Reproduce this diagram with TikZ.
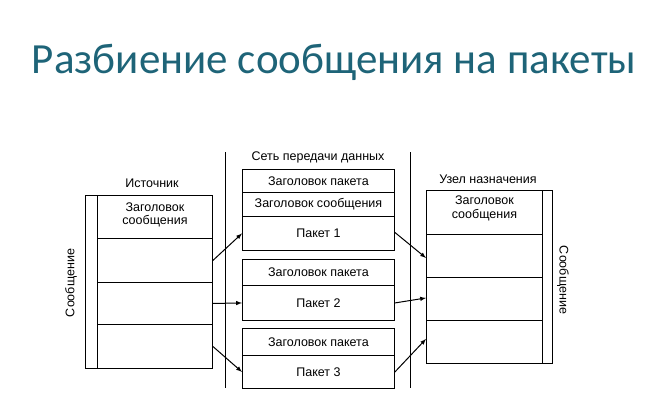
\documentclass[tikz,border=0pt]{standalone}
\usepackage{fontspec}
\setmainfont{Liberation Sans}
\newfontfamily\titlefont{Carlito}
\usetikzlibrary{arrows,positioning,calc}
\definecolor{titleteal}{RGB}{30,100,120}

\begin{document}
\begin{tikzpicture}[x=1pt, y=-1pt,
		every node/.style={align=center, font=\fontsize{12.5}{13.5}\selectfont},
		cell/.style={draw, line width=0.9pt, inner sep=0pt, anchor=north west},
		msgarrow/.style={line width=1pt, -latex}
	]
	\useasboundingbox (0,0) rectangle (668,401);

	% Title
	\node[font=\titlefont\fontsize{43}{48}\selectfont, text=titleteal] (title) at (334,62) {Разбиение сообщения на пакеты};

	% Source
	\node (srcLabel) at (152,183) {Источник};
	\node[cell, minimum width=127pt, minimum height=173pt] (src) at (85,195) {};
	\draw[line width=0.9pt] (97,195) -- (97,368);
	\node[cell, minimum width=115pt, minimum height=43pt] (S1) at (97,195) {};
	\node[cell, minimum width=115pt, minimum height=44pt] (S2) at (97,238) {};
	\node[cell, minimum width=115pt, minimum height=42pt] (S3) at (97,282) {};
	\node[cell, minimum width=115pt, minimum height=44pt] (S4) at (97,324) {};
	\node at ($(S1.center)+(0,-2)$) {Заголовок\\сообщения};
	\node[rotate=90] (srcMsg) at (71,283) {Сообщение};

	% Network
	\draw[line width=0.9pt] (225,152) -- (225,388);
	\draw[line width=0.9pt] (410,152) -- (410,388);
	\node (netLabel) at (318,157) {Сеть передачи данных};
	\node[cell, minimum width=152pt, minimum height=23pt] (P1a) at (242,169) {Заголовок пакета};
	\node[cell, minimum width=152pt, minimum height=24pt] (P1b) at (242,192) {Заголовок сообщения};
	\node[cell, minimum width=152pt, minimum height=34pt] (P1c) at (242,216) {Пакет 1};
	\node[cell, minimum width=152pt, minimum height=26pt] (P2a) at (242,259) {Заголовок пакета};
	\node[cell, minimum width=152pt, minimum height=35pt] (P2b) at (242,285) {Пакет 2};
	\node[cell, minimum width=152pt, minimum height=27pt] (P3a) at (242,328) {Заголовок пакета};
	\node[cell, minimum width=152pt, minimum height=33pt] (P3b) at (242,355) {Пакет 3};

	% Destination
	\node (dstLabel) at (488,179) {Узел назначения};
	\node[cell, minimum width=126pt, minimum height=173pt] (dst) at (426,190) {};
	\draw[line width=0.9pt] (542,190) -- (542,363);
	\node[cell, minimum width=116pt, minimum height=44pt] (D1) at (426,190) {};
	\node[cell, minimum width=116pt, minimum height=43pt] (D2) at (426,234) {};
	\node[cell, minimum width=116pt, minimum height=43pt] (D3) at (426,277) {};
	\node[cell, minimum width=116pt, minimum height=43pt] (D4) at (426,320) {};
	\node at ($(D1.center)+(0,-4)$) {Заголовок\\сообщения};
	\node[rotate=-90] (dstMsg) at (563,280) {Сообщение};

	% Arrows
	\draw[msgarrow] (S2.east) -- (P1c.west);
	\draw[msgarrow] (S3.east) -- (P2b.west);
	\draw[msgarrow] (S4.east) -- (P3b.west);
	\draw[msgarrow] ($(P1c.east)+(0,-1)$) -- ($(D2.west)+(0,2)$);
	\draw[msgarrow] (P2b.east) -- ($(D3.west)+(0,-1)$);
	\draw[msgarrow] (P3b.east) -- ($(D4.west)+(0,-3)$);
\end{tikzpicture}
\end{document}
